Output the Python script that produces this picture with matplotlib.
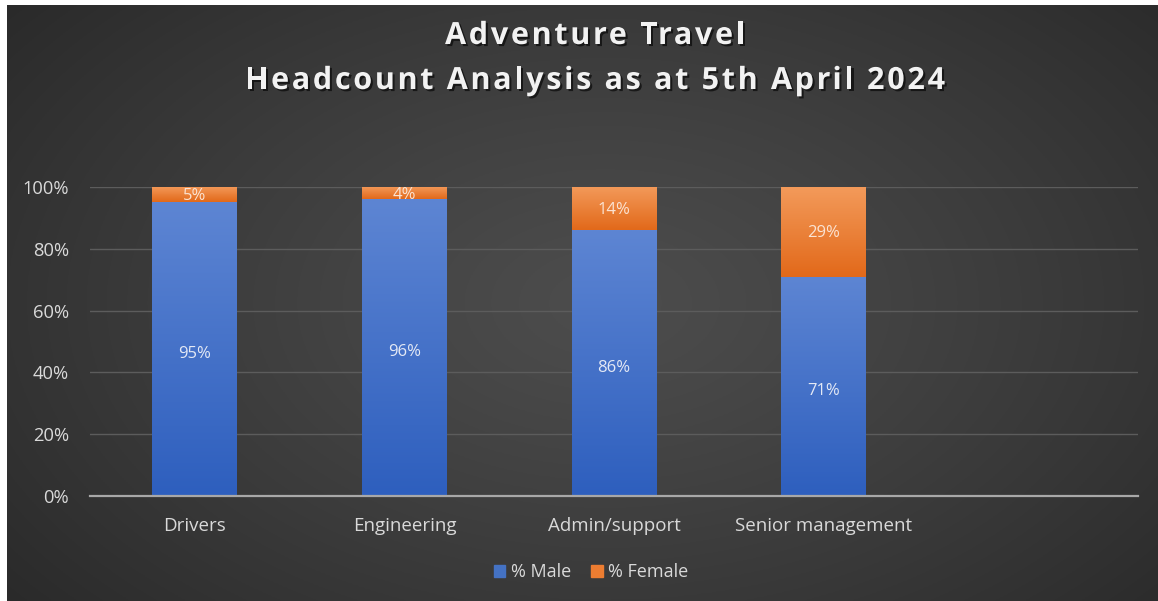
import numpy as np
import matplotlib
matplotlib.use("Agg")
import matplotlib.pyplot as plt
from matplotlib.colors import LinearSegmentedColormap
from matplotlib.patches import Rectangle
from matplotlib.font_manager import FontProperties
import matplotlib.patheffects as pe

# ---- data ----
categories = ["Drivers", "Engineering", "Admin/support", "Senior management"]
pct_male = [95, 96, 86, 71]
pct_female = [5, 4, 14, 29]
y_ticks = [0, 20, 40, 60, 80, 100]
series_names = ["% Male", "% Female"]
title_lines = ["Adventure Travel", "Headcount Analysis as at 5th April 2024"]

W, H = 1158, 601
fig = plt.figure(figsize=(W / 100, H / 100), dpi=100, facecolor="white")

# background with radial gradient (white margin top/left)
bg = fig.add_axes([7 / W, 0, 1 - 7 / W, 1 - 5 / H])
bg.set_axis_off()
yy, xx = np.mgrid[0:1:300j, 0:1:600j]
r = np.sqrt(((xx - 0.52) / 0.75) ** 2 + ((yy - 0.5) / 0.9) ** 2)
r = np.clip(r, 0, 1)
c0, c1 = 0.30, 0.145
img = c0 + (c1 - c0) * r ** 1.2
bg.imshow(np.dstack([img, img, img]), extent=[0, 1, 0, 1], aspect="auto", origin="lower")
bg.set_xlim(0, 1)
bg.set_ylim(0, 1)

font = "Open Sans"
txt_col = "#d9d9d9"

ax = fig.add_axes([90 / W, 105 / H, (1138 - 90) / W, (496 - 187) / H])
ax.set_facecolor("none")
ax.patch.set_alpha(0)
x = np.arange(len(categories))
bw = 0.405

male_cmap = LinearSegmentedColormap.from_list("m", ["#2e5fbe", "#5d85d3"])
fem_cmap = LinearSegmentedColormap.from_list("f", ["#e2691a", "#f39a5a"])

grad = np.linspace(0, 1, 100).reshape(-1, 1)
for i, (m, f) in enumerate(zip(pct_male, pct_female)):
    rect_m = Rectangle((x[i] - bw / 2, 0), bw, m, facecolor="none", edgecolor="none")
    ax.add_patch(rect_m)
    im = ax.imshow(grad, cmap=male_cmap, extent=[x[i] - bw / 2, x[i] + bw / 2, 0, m],
                   origin="lower", aspect="auto", zorder=2)
    im.set_clip_path(rect_m)
    rect_f = Rectangle((x[i] - bw / 2, m), bw, f, facecolor="none", edgecolor="none")
    ax.add_patch(rect_f)
    im2 = ax.imshow(grad, cmap=fem_cmap, extent=[x[i] - bw / 2, x[i] + bw / 2, m, m + f],
                    origin="lower", aspect="auto", zorder=2)
    im2.set_clip_path(rect_f)
    ax.text(x[i], m / 2 - 1.5, f"{m}%", ha="center", va="center", color="#e4e9f5",
            fontsize=12, family=font, zorder=3)
    ax.text(x[i], m + f / 2 - 0.5, f"{f}%", ha="center", va="center", color="#fbe3d2",
            fontsize=12, family=font, zorder=3)

ax.set_xlim(-0.5, 4.5)
ax.set_ylim(0, 100)
ax.set_yticks(y_ticks)
ax.set_yticklabels([f"{v}%" for v in y_ticks], family=font, fontsize=13.2, color=txt_col)
ax.set_xticks(x)
ax.set_xticklabels(categories, family=font, fontsize=13.5, color=txt_col)
ax.tick_params(axis="x", length=0, pad=15)
ax.tick_params(axis="y", length=0, pad=15)
for v in y_ticks[1:]:
    ax.axhline(v, color="#5c5c5c", lw=1.0, zorder=1)
for s in ["top", "right", "left"]:
    ax.spines[s].set_visible(False)
ax.spines["bottom"].set_color("#a8a8a8")
ax.spines["bottom"].set_linewidth(1.6)

# legend
handles = [Rectangle((0, 0), 1, 1, color="#4472c4"), Rectangle((0, 0), 1, 1, color="#ed7d31")]
leg = fig.legend(handles, series_names, loc="center", bbox_to_anchor=(591 / W, 1 - 572 / H),
                 ncol=2, frameon=False, prop={"family": font, "size": 13},
                 handlelength=0.65, handleheight=0.65, handletextpad=0.3, columnspacing=1.1)
for t in leg.get_texts():
    t.set_color(txt_col)

# title with letter spacing (characters placed individually)
shadow = [pe.SimplePatchShadow(offset=(1.5, -1.5), shadow_rgbFace="black", alpha=0.6), pe.Normal()]
fp = FontProperties(family=font, weight="bold", size=22)
renderer = fig.canvas.get_renderer()


def adv(ch):
    wa = renderer.get_text_width_height_descent("aa", fp, ismath=False)[0]
    w = renderer.get_text_width_height_descent("a" + ch + "a", fp, ismath=False)[0]
    return w - wa


target = 700.0
widths2 = [adv(c) for c in title_lines[1]]
track = (target - sum(widths2)) / (len(widths2) - 1)
cx = 595.0
for line, base_y in zip(title_lines, [44, 89]):
    ws = [adv(c) for c in line]
    total = sum(ws) + track * (len(ws) - 1)
    xpos = cx - total / 2
    for ch, w in zip(line, ws):
        if ch != " ":
            fig.text(xpos / W, 1 - base_y / H, ch, ha="left", va="baseline",
                     color="#f2f2f2", fontproperties=fp, path_effects=shadow)
        xpos += w + track

fig.savefig("out.png", dpi=100, facecolor="white")
